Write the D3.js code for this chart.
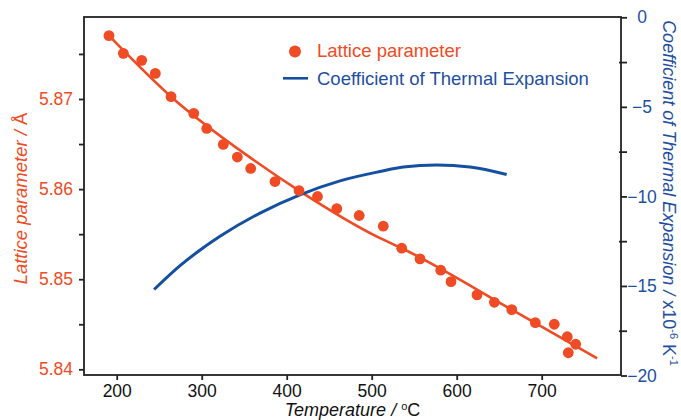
<!DOCTYPE html>
<html>
<head>
<meta charset="utf-8">
<script src="https://cdn.jsdelivr.net/npm/d3@7/dist/d3.min.js"></script>
<style>
  html, body { margin: 0; padding: 0; background: #fff; }
  svg { display: block; }
  text { font-family: "Liberation Sans", Arial, Helvetica, sans-serif; }
</style>
</head>
<body>
<svg id="chart" width="681" height="420"></svg>
<script>
// Measured lattice parameter (Temperature °C, Å)
const tempPoints = [190.9, 207.8, 229.4, 245.4, 263.9, 290.6, 305.9, 325.4, 341.9, 357.6,
  386.2, 414.5, 436.2, 458.9, 485.3, 513.6, 535.3, 556.8, 581.2, 593.3,
  623.9, 644.3, 664.8, 692.5, 714.8, 730.1, 740.0, 731.3];
const latticeValues = [5.87703, 5.87507, 5.87429, 5.87284, 5.87026, 5.86840, 5.86673, 5.86496, 5.86356, 5.86229,
  5.86084, 5.85984, 5.85918, 5.85783, 5.85707, 5.85589, 5.85344, 5.85226, 5.85100, 5.84973,
  5.84826, 5.84744, 5.84662, 5.84518, 5.84500, 5.84362, 5.84278, 5.84184];

// Fitted lattice curve
const fitTemps = [190.9, 263.9, 360.7, 414.8, 509.8, 535.3, 664.8, 765.1];
const fitValues = [5.87703, 5.87026, 5.86326, 5.85981, 5.85456, 5.85344, 5.84662, 5.84122];

// Coefficient of thermal expansion (x10^-6 K^-1)
const cteTemps = [244, 274.5, 321.5, 368.6, 415.6, 462.7, 509.8, 537.2, 576.5, 615.6, 658.8];
const cteValues = [-15.2, -13.87, -12.23, -10.93, -9.91, -9.13, -8.61, -8.36, -8.25, -8.36, -8.78];

// Tick values
const xTicks = [200, 300, 400, 500, 600, 700];
const yLeftMajor = [5.84, 5.85, 5.86, 5.87];
const yLeftMinor = [5.845, 5.855, 5.865, 5.875];
const yRightMajor = [0, -5, -10, -15, -20];
const yRightMinor = [-2.5, -7.5, -12.5, -17.5];

const ORANGE = "#ef4b24";
const BLUE = "#1450a0";
const BLUE_TEXT = "#1f4f9f";
const AXIS = "#222";

const svg = d3.select("#chart");
const L = 84, R = 621, T = 17, B = 375;

const x = d3.scaleLinear().domain([161.5, 793.3]).range([L, R]);
const yL = d3.scaleLinear().domain([5.83937, 5.8791]).range([B, T]);
const yR = d3.scaleLinear().domain([-20, 0]).range([375.5, 17.3]);

// Fit line
svg.append("path")
  .datum(fitTemps.map((t, i) => [t, fitValues[i]]))
  .attr("fill", "none").attr("stroke", ORANGE).attr("stroke-width", 2.6)
  .attr("d", d3.line().x(d => x(d[0])).y(d => yL(d[1])).curve(d3.curveMonotoneX));

// CTE curve
svg.append("path")
  .datum(cteTemps.map((t, i) => [t, cteValues[i]]))
  .attr("fill", "none").attr("stroke", BLUE).attr("stroke-width", 3)
  .attr("d", d3.line().x(d => x(d[0])).y(d => yR(d[1])).curve(d3.curveMonotoneX));

// Points
svg.append("g").selectAll("circle")
  .data(tempPoints.map((t, i) => [t, latticeValues[i]]))
  .join("circle")
  .attr("cx", d => x(d[0])).attr("cy", d => yL(d[1])).attr("r", 5.4)
  .attr("fill", ORANGE);

// Frame
svg.append("rect").attr("x", L).attr("y", T).attr("width", R - L).attr("height", B - T)
  .attr("fill", "none").attr("stroke", AXIS).attr("stroke-width", 1.8);

// Bottom axis
const xAxis = svg.append("g").attr("transform", `translate(0,${B})`)
  .call(d3.axisBottom(x).tickValues(xTicks).tickSize(5).tickPadding(5).tickFormat(d3.format("d")));
xAxis.select(".domain").remove();
xAxis.selectAll("line").attr("stroke", AXIS).attr("stroke-width", 1.8);
xAxis.selectAll("text").attr("fill", "#111").style("font-size", "17.5px");

// Left axis
const yAxisL = svg.append("g").attr("transform", `translate(${L},0)`)
  .call(d3.axisLeft(yL).tickValues(yLeftMajor).tickSize(5).tickPadding(6).tickFormat(d3.format(".2f")));
yAxisL.select(".domain").remove();
yAxisL.selectAll("line").attr("stroke", AXIS).attr("stroke-width", 1.8);
yAxisL.selectAll("text").attr("fill", ORANGE).style("font-size", "17.5px");
const yAxisLMinor = svg.append("g").attr("transform", `translate(${L},0)`)
  .call(d3.axisLeft(yL).tickValues(yLeftMinor).tickSize(5).tickFormat(""));
yAxisLMinor.select(".domain").remove();
yAxisLMinor.selectAll("line").attr("stroke", AXIS).attr("stroke-width", 1.8);

// Right axis
const yAxisR = svg.append("g").attr("transform", `translate(${R},0)`)
  .call(d3.axisRight(yR).tickValues(yRightMajor).tickSize(6).tickPadding(15).tickFormat(d3.format("d")));
yAxisR.select(".domain").remove();
yAxisR.selectAll("line").attr("stroke", AXIS).attr("stroke-width", 1.8);
yAxisR.selectAll("text").attr("fill", BLUE_TEXT).attr("text-anchor", "middle").style("font-size", "17.5px");
const yAxisRMinor = svg.append("g").attr("transform", `translate(${R},0)`)
  .call(d3.axisRight(yR).tickValues(yRightMinor).tickSize(6).tickFormat(""));
yAxisRMinor.select(".domain").remove();
yAxisRMinor.selectAll("line").attr("stroke", AXIS).attr("stroke-width", 1.8).attr("x1", -2);

// Axis titles
const xt = svg.append("text").attr("x", (L + R) / 2).attr("y", 415.5)
  .attr("text-anchor", "middle").attr("fill", "#111").style("font-size", "18px");
xt.append("tspan").style("font-style", "italic").text("Temperature / ");
xt.append("tspan").attr("dy", -6).style("font-size", "11px").text("o");
xt.append("tspan").attr("dy", 6).text("C");

const ylt = svg.append("text").attr("transform", "translate(26.5,198.5) rotate(-90)")
  .attr("text-anchor", "middle").attr("fill", ORANGE).style("font-size", "18.5px");
ylt.append("tspan").style("font-style", "italic").text("Lattice parameter / ");
ylt.append("tspan").text("Å");

const yrt = svg.append("text").attr("transform", "translate(663,193) rotate(90)")
  .attr("text-anchor", "middle").attr("fill", BLUE_TEXT).style("font-size", "18px");
yrt.append("tspan").style("font-style", "italic").text("Coefficient of Thermal Expansion / ");
yrt.append("tspan").text("x10");
yrt.append("tspan").attr("dy", -7).style("font-size", "11px").text("-6");
yrt.append("tspan").attr("dy", 7).text(" K");
yrt.append("tspan").attr("dy", -7).style("font-size", "11px").text("-1");

// Legend
const lg = svg.append("g");
lg.append("circle").attr("cx", 295).attr("cy", 51.5).attr("r", 6).attr("fill", ORANGE);
lg.append("text").attr("x", 317).attr("y", 56.5).attr("fill", ORANGE).style("font-size", "18.5px")
  .text("Lattice parameter");
lg.append("line").attr("x1", 283).attr("x2", 308).attr("y1", 78.3).attr("y2", 78.3)
  .attr("stroke", BLUE).attr("stroke-width", 2.6);
lg.append("text").attr("x", 317).attr("y", 84.5).attr("fill", BLUE_TEXT).style("font-size", "18.5px")
  .text("Coefficient of Thermal Expansion");
</script>
</body>
</html>
